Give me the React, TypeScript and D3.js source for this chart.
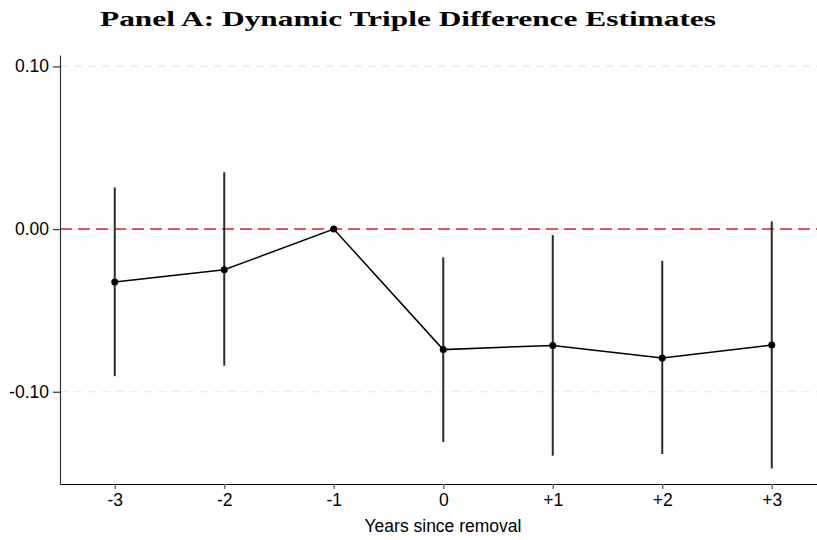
import { useEffect, useRef } from 'react';
import * as d3 from 'd3';

// event time, point estimates and 95% CI bounds
const periods = [-3, -2, -1, 0, 1, 2, 3];
const tickLabels = ['-3', '-2', '-1', '0', '+1', '+2', '+3'];
const estimates = [-0.0326, -0.025, 0, -0.0741, -0.0715, -0.0793, -0.0713];
const ciLow = [-0.0904, -0.084, 0, -0.1309, -0.1393, -0.1383, -0.1471];
const ciHigh = [0.0256, 0.0349, 0, -0.0174, -0.0037, -0.0195, 0.0047];
const yTicks = [0.1, 0, -0.1];
const yTickLabels = ['0.10', '0.00', '-0.10'];

const W = 817;
const H = 540;
const margin = { top: 55, right: -9.5, bottom: 56, left: 60 };
const sans = 'Liberation Sans, Arial, sans-serif';

const App = () => {
  const svgRef = useRef<SVGSVGElement>(null);

  useEffect(() => {
    const svg = d3.select(svgRef.current);
    svg.selectAll('*').remove();

    const x = d3
      .scaleLinear()
      .domain([-3.5, 3.5])
      .range([margin.left, W - margin.right]);
    const y = d3
      .scaleLinear()
      .domain([-0.1567, 0.107])
      .range([H - margin.bottom, margin.top]);

    const data = periods.map((p, i) => ({
      p,
      est: estimates[i],
      lo: ciLow[i],
      hi: ciHigh[i],
    }));

    // title
    svg
      .append('text')
      .attr('x', 408)
      .attr('y', 26)
      .attr('text-anchor', 'middle')
      .attr('font-family', 'Liberation Serif, serif')
      .attr('font-weight', 'bold')
      .attr('font-size', 21)
      .attr('textLength', 616)
      .attr('lengthAdjust', 'spacingAndGlyphs')
      .text('Panel A: Dynamic Triple Difference Estimates');

    // gridlines at +-0.10
    svg
      .selectAll('.grid')
      .data([0.1, -0.1])
      .join('line')
      .attr('class', 'grid')
      .attr('x1', margin.left)
      .attr('x2', W)
      .attr('y1', (d) => y(d))
      .attr('y2', (d) => y(d))
      .attr('stroke', '#e8e8e8')
      .attr('stroke-width', 1.2)
      .attr('stroke-dasharray', '8,6');

    // zero reference line
    svg
      .append('line')
      .attr('x1', margin.left)
      .attr('x2', W)
      .attr('y1', y(0))
      .attr('y2', y(0))
      .attr('stroke', '#e41a1c')
      .attr('stroke-width', 1.6)
      .attr('stroke-dasharray', '12,6');

    // confidence intervals
    svg
      .selectAll('.ci')
      .data(data.filter((d) => d.hi !== d.lo))
      .join('line')
      .attr('class', 'ci')
      .attr('x1', (d) => x(d.p))
      .attr('x2', (d) => x(d.p))
      .attr('y1', (d) => y(d.lo))
      .attr('y2', (d) => y(d.hi))
      .attr('stroke', '#2a2a2a')
      .attr('stroke-width', 2);

    // connecting line
    const lineGen = d3
      .line<{ p: number; est: number }>()
      .x((d) => x(d.p))
      .y((d) => y(d.est));
    svg
      .append('path')
      .datum(data)
      .attr('d', lineGen)
      .attr('fill', 'none')
      .attr('stroke', '#000')
      .attr('stroke-width', 1.5);

    svg
      .selectAll('.pt')
      .data(data)
      .join('circle')
      .attr('class', 'pt')
      .attr('cx', (d) => x(d.p))
      .attr('cy', (d) => y(d.est))
      .attr('r', 3.5)
      .attr('fill', '#000');

    // y axis
    const yAxis = d3
      .axisLeft(y)
      .tickValues(yTicks)
      .tickFormat((_, i) => yTickLabels[i])
      .tickSize(7)
      .tickSizeOuter(0)
      .tickPadding(4);
    const yg = svg
      .append('g')
      .attr('transform', `translate(${margin.left},0)`)
      .call(yAxis)
      .attr('font-family', sans)
      .attr('font-size', 17.5);
    yg.select('.domain').attr('stroke', '#333').attr('stroke-width', 1.2);
    yg.selectAll('.tick line').attr('stroke', '#333').attr('stroke-width', 1.2);
    yg.selectAll('.tick text').attr('fill', '#000');

    // x axis
    const xAxis = d3
      .axisBottom(x)
      .tickValues(periods)
      .tickFormat((_, i) => tickLabels[i])
      .tickSize(5)
      .tickSizeOuter(0)
      .tickPadding(5);
    const xg = svg
      .append('g')
      .attr('transform', `translate(0,${H - margin.bottom})`)
      .call(xAxis)
      .attr('font-family', sans)
      .attr('font-size', 17.5);
    xg.select('.domain').attr('stroke', '#000').attr('stroke-width', 1.2);
    xg.selectAll('.tick line').attr('stroke', '#777').attr('stroke-width', 1.5);
    xg.selectAll('.tick text').attr('fill', '#000');

    svg
      .append('text')
      .attr('x', 443)
      .attr('y', 532)
      .attr('text-anchor', 'middle')
      .attr('font-family', sans)
      .attr('font-size', 17.5)
      .text('Years since removal');
  }, []);

  return (
    <svg
      ref={svgRef}
      width={W}
      height={H}
      style={{ position: 'absolute', left: 0, top: 0, background: '#fff' }}
    />
  );
};

export default App;
